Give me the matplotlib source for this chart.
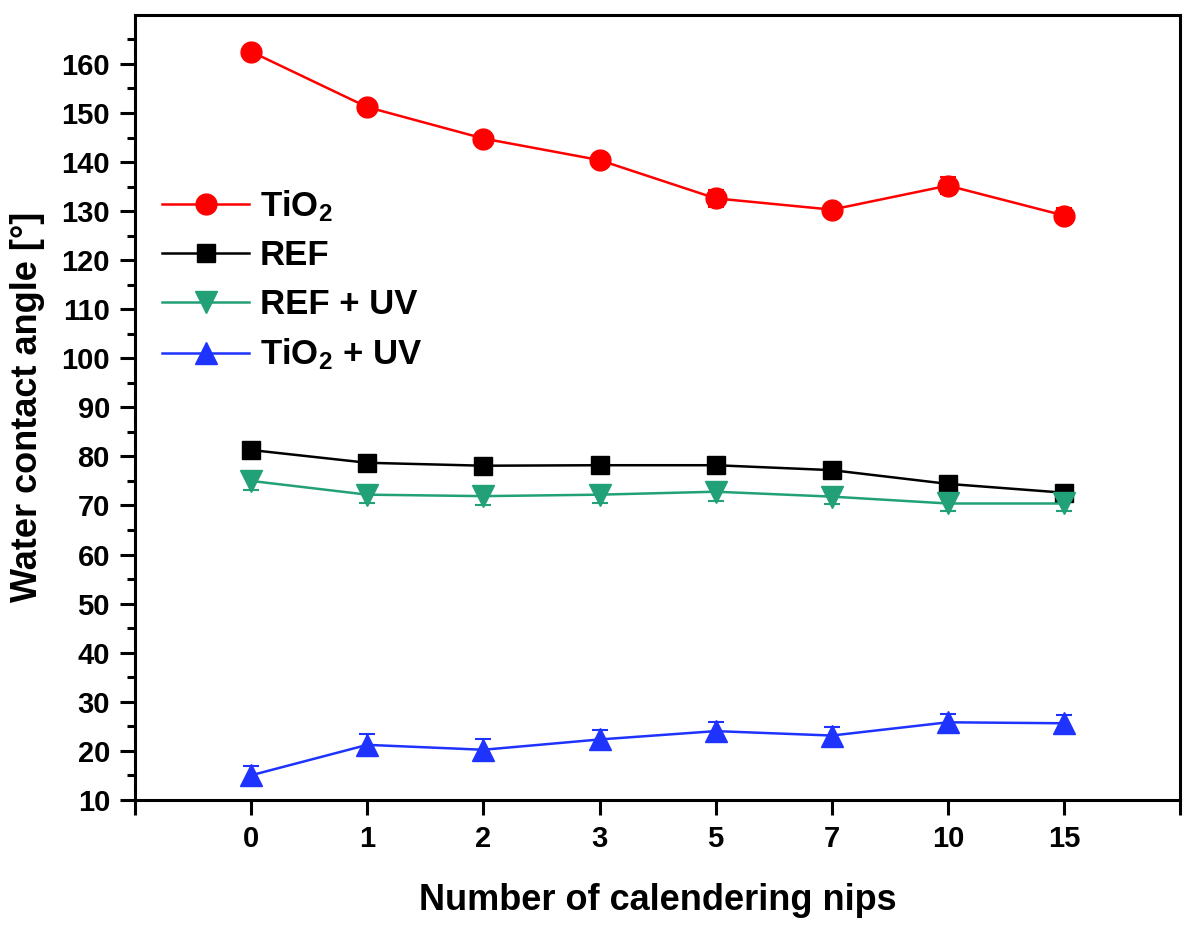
import numpy as np
import matplotlib
matplotlib.use('Agg')
import matplotlib.pyplot as plt
from matplotlib.ticker import FixedLocator

plt.rcParams['font.family'] = ['Liberation Sans', 'DejaVu Sans']
plt.rcParams['font.weight'] = 'bold'
plt.rcParams['mathtext.fontset'] = 'custom'
plt.rcParams['mathtext.rm'] = 'Liberation Sans:bold'
plt.rcParams['mathtext.bf'] = 'Liberation Sans:bold'
plt.rcParams['mathtext.default'] = 'rm'

# data
nips = ['0', '1', '2', '3', '5', '7', '10', '15']
tio2 = [162.5, 151.2, 144.8, 140.4, 132.6, 130.3, 135.2, 129.1]
tio2_err = [0.6, 0.6, 0.6, 0.8, 1.7, 0.6, 1.7, 1.6]
ref = [81.3, 78.7, 78.1, 78.2, 78.2, 77.2, 74.4, 72.6]
ref_err = [0.5, 0.5, 0.5, 0.5, 0.5, 0.5, 0.5, 0.5]
ref_uv = [75.0, 72.2, 71.9, 72.2, 72.8, 71.8, 70.4, 70.4]
ref_uv_err = [1.8, 1.8, 1.8, 1.8, 1.8, 1.6, 1.5, 1.5]
tio2_uv = [15.0, 21.2, 20.2, 22.3, 24.0, 23.1, 25.8, 25.6]
tio2_uv_err = [1.8, 2.2, 2.1, 1.9, 1.9, 1.8, 1.6, 1.6]

series = [
    ('TiO$_2$', tio2, tio2_err, '#ff0000', 'o', 15),
    ('REF', ref, ref_err, '#000000', 's', 12.5),
    ('REF + UV', ref_uv, ref_uv_err, '#22a077', 'v', 16),
    ('TiO$_2$ + UV', tio2_uv, tio2_uv_err, '#1f33ff', '^', 16),
]

fig = plt.figure(figsize=(12, 9.3), dpi=100)
ax = fig.add_axes([0.1125, 0.14, 0.871, 0.844])

x = np.arange(len(nips))
for name, vals, err, c, m, ms in series:
    ax.errorbar(x, vals, yerr=err, fmt='none', ecolor=c, elinewidth=1.5,
                capsize=6, capthick=1.5)
    ax.plot(x, vals, color=c, marker=m, markersize=ms, linewidth=1.8, label=name)

ax.set_xlim(-1, 8)
ax.set_ylim(10, 170)
ax.xaxis.set_major_locator(FixedLocator(np.arange(-1, 9)))
ax.set_xticklabels([''] + nips + [''])
ax.yaxis.set_major_locator(FixedLocator(np.arange(10, 161, 10)))
ax.yaxis.set_minor_locator(FixedLocator(np.arange(15, 170, 10)))

for s in ax.spines.values():
    s.set_linewidth(2.2)
ax.tick_params(axis='both', which='major', direction='out', length=11, width=2.2,
               labelsize=21, top=False, right=False)
ax.tick_params(axis='y', which='minor', direction='out', length=5.5, width=2.2)
ax.tick_params(axis='y', pad=7)
ax.tick_params(axis='x', pad=7)
for lbl in ax.get_xticklabels() + ax.get_yticklabels():
    lbl.set_fontweight('bold')

ax.set_xlabel('Number of calendering nips', fontsize=26, fontweight='bold', labelpad=22)
ax.set_ylabel('Water contact angle [°]', fontsize=26, fontweight='bold', labelpad=12)

leg = ax.legend(loc='upper left', bbox_to_anchor=(0.013, 0.797), frameon=False,
                fontsize=25, handlelength=2.5, handletextpad=0.3, labelspacing=0.45,
                borderaxespad=0)
for t in leg.get_texts():
    t.set_fontweight('bold')

fig.savefig('out.png', dpi=100)
